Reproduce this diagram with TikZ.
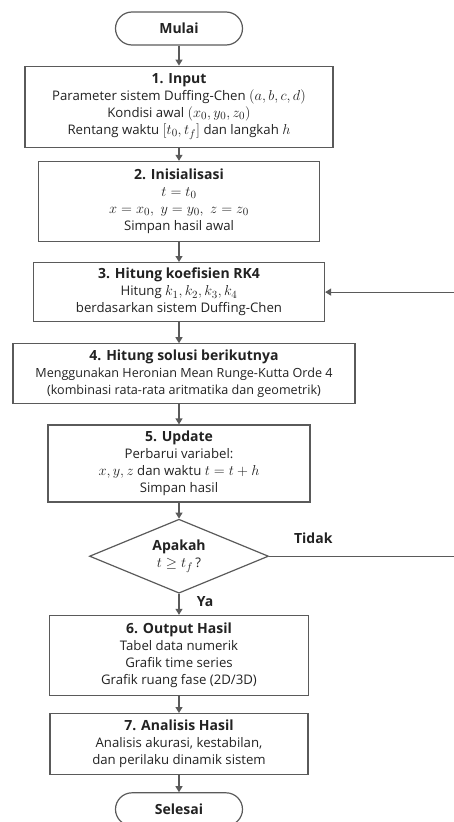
\documentclass[tikz,border=0pt]{standalone}
\usepackage{amsmath,amssymb}
\usepackage{fontspec}
\setmainfont{Open Sans}
\usepackage{xcolor}
\usetikzlibrary{positioning,arrows.meta,shapes.geometric,calc}

\definecolor{linegray}{HTML}{5A5A5A}
\definecolor{textgray}{HTML}{222222}
\newcommand{\boxtitle}[1]{{\fontsize{14}{17}\selectfont\bfseries #1}}
\newcommand{\bigmath}[1]{{\fontsize{15.5}{17}\selectfont$#1$}}

\begin{document}
\begin{tikzpicture}[
  x=1pt, y=1pt,
  node distance=20pt,
  box/.style={draw=linegray, line width=1.2pt, align=center, inner sep=2pt,
    text=textgray, font=\fontsize{13.2}{17}\selectfont},
  term/.style={box, rounded corners=16.5pt, minimum width=127pt, minimum height=33pt},
  decision/.style={box, diamond, aspect=2.4, minimum width=179pt, minimum height=74pt, inner sep=0pt},
  arr/.style={-{Triangle[length=6pt,width=7pt]}, line width=1.2pt, draw=linegray},
  lbl/.style={text=textgray, font=\fontsize{14}{17}\selectfont\bfseries}
]
  \useasboundingbox (0,0) rectangle (454,-822);

  \node[term] (start) at (179,-28.5) {\boxtitle{Mulai}};
  \node[box, minimum width=308pt, minimum height=81pt, below=20pt of start] (input)
    {\boxtitle{1. Input}\\Parameter sistem Duffing-Chen \bigmath{(a,b,c,d)}\\Kondisi awal \bigmath{(x_0,y_0,z_0)}\\Rentang waktu \bigmath{[t_0,t_f]} dan langkah \bigmath{h}};
  \node[box, minimum width=281pt, minimum height=80pt, below=13pt of input] (init)
    {\boxtitle{2. Inisialisasi}\\\bigmath{t=t_0}\\\bigmath{x=x_0,\ y=y_0,\ z=z_0}\\Simpan hasil awal};
  \node[box, minimum width=291pt, minimum height=59pt, below=20pt of init] (rk)
    {\boxtitle{3. Hitung koefisien RK4}\\Hitung \bigmath{k_1,k_2,k_3,k_4}\\berdasarkan sistem Duffing-Chen};
  \node[box, minimum width=342pt, minimum height=60pt, below=21pt of rk, xshift=5pt] (next)
    {\boxtitle{4. Hitung solusi berikutnya}\\{\fontsize{12.6}{17}\selectfont Menggunakan Heronian Mean Runge-Kutta Orde 4}\\{\fontsize{12.6}{17}\selectfont (kombinasi rata-rata aritmatika dan geometrik)}};
  \node[box, minimum width=262pt, minimum height=77pt, below=20pt of next, xshift=-5pt] (upd)
    {\boxtitle{5. Update}\\Perbarui variabel:\\\bigmath{x,y,z} dan waktu \bigmath{t=t+h}\\Simpan hasil};
  \node[decision, below=16pt of upd] (cek) {\boxtitle{Apakah}\\\bigmath{t\geq t_f}\,?};
  \node[box, minimum width=259pt, minimum height=80pt, below=21pt of cek] (out)
    {\boxtitle{6. Output Hasil}\\Tabel data numerik\\Grafik time series\\Grafik ruang fase (2D/3D)};
  \node[box, minimum width=258pt, minimum height=61pt, below=17pt of out] (anl)
    {\boxtitle{7. Analisis Hasil}\\Analisis akurasi, kestabilan,\\dan perilaku dinamik sistem};
  \node[term, below=17pt of anl] (stop) {\boxtitle{Selesai}};

  % loop back, its upright part lies past the page edge
  \coordinate (loop) at (470,0);

  \draw[arr] (start) -- (input);
  \draw[arr] (input) -- (init);
  \draw[arr] (init) -- (rk);
  \draw[arr] (rk.south) -- (rk.south |- next.north);
  \draw[arr] (upd.north |- next.south) -- (upd.north);
  \draw[arr] (upd) -- (cek);
  \draw[arr] (cek) -- node[lbl, right=14pt, pos=0.35] {Ya} (out);
  \draw[arr] (out) -- (anl);
  \draw[arr] (anl) -- (stop);
  \draw[arr] (cek.east) -- node[lbl, above, pos=0.22, yshift=9pt] {Tidak} (cek.east -| loop) |- (rk.east);
\end{tikzpicture}
\end{document}
